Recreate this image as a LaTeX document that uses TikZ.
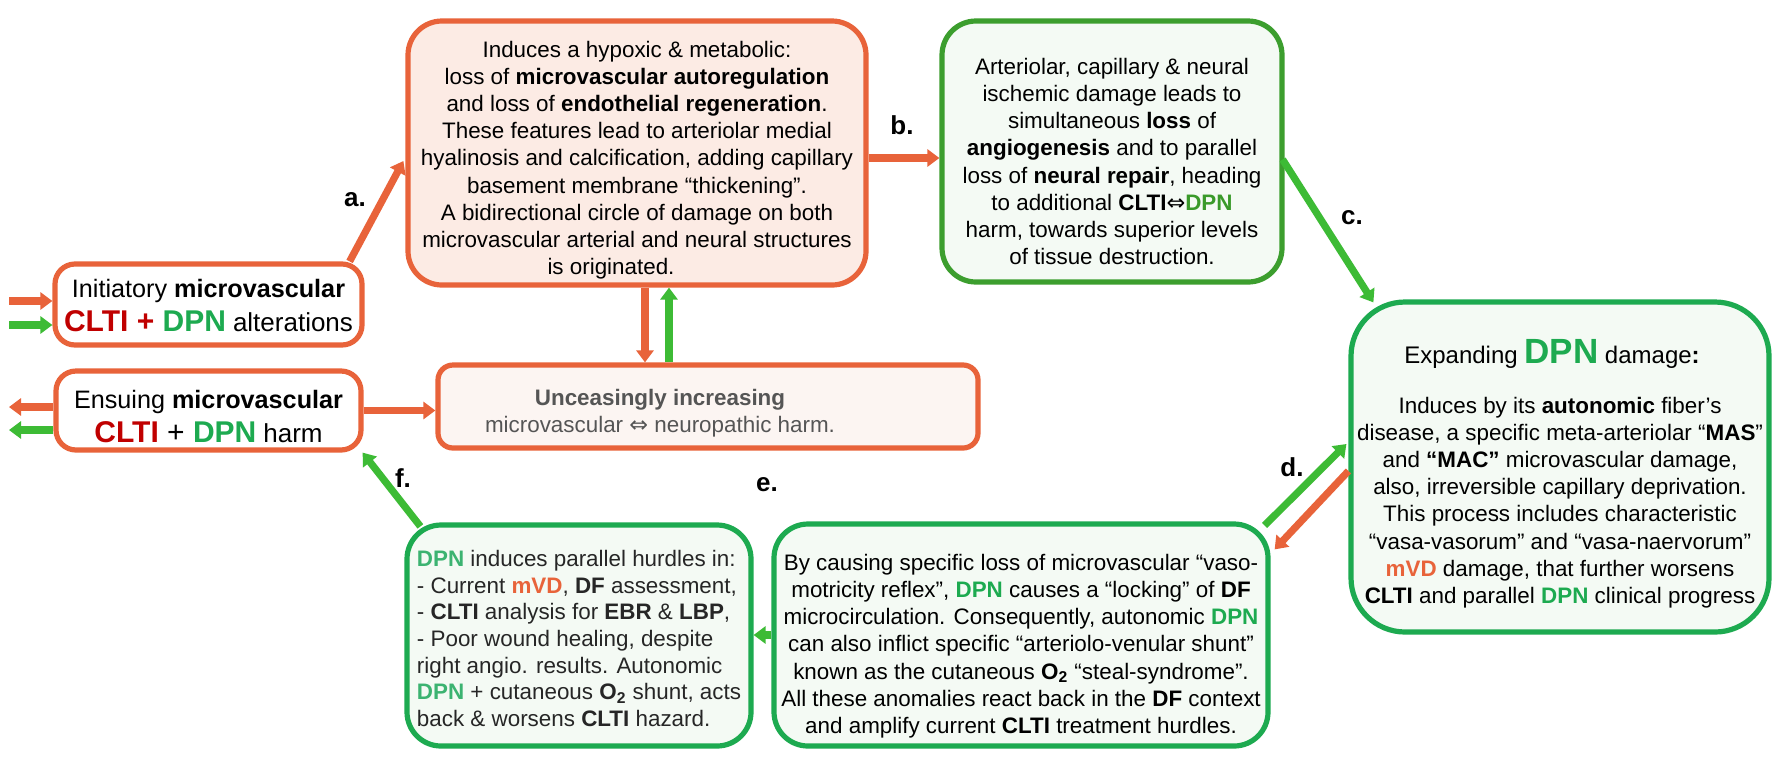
\documentclass[tikz,border=0pt]{standalone}
\usepackage{fontspec}
\setmainfont{Liberation Sans}
\newfontfamily\symfont{DejaVu Sans}
\usetikzlibrary{arrows.meta,calc}
\definecolor{orng}{HTML}{E8633A}
\definecolor{cltired}{HTML}{C00000}
\definecolor{dpng}{HTML}{1DAA50}
\definecolor{dpndark}{HTML}{3A9A2A}
\definecolor{dpnlight}{HTML}{3CB371}
\definecolor{boxgreen}{HTML}{1DAA50}
\definecolor{boxgreenB}{HTML}{3C9E2E}
\definecolor{arrgreen}{HTML}{3DBB35}
\definecolor{pinkfill}{HTML}{FCEBE4}
\definecolor{pinkfilltwo}{HTML}{FCF5F2}
\definecolor{greenfill}{HTML}{F4FAF4}
\definecolor{graytext}{HTML}{555555}
\definecolor{darktext}{HTML}{262626}
\newcommand{\dblarr}{{\symfont ⇔}}
\newcommand{\mybody}{\fontsize{11.2}{13.6}\selectfont}
\newcommand{\Oii}{\textbf{O\textsubscript{2}}}
\tikzset{
  basebox/.style={line width=2.6pt, inner sep=0pt},
  orbox/.style={basebox, draw=orng, fill=white, rounded corners=10pt},
  pinkbox/.style={basebox, draw=orng, fill=pinkfill, rounded corners=17pt},
  uncbox/.style={basebox, draw=orng, fill=pinkfilltwo, rounded corners=7.5pt},
  grbox/.style={basebox, draw=boxgreen, fill=greenfill, rounded corners=17pt},
  grboxB/.style={basebox, draw=boxgreenB, fill=greenfill, rounded corners=17pt},
  txt/.style={align=center, inner sep=0pt, font=\mybody},
  oarr/.style={draw=orng, line width=3.6pt, -{Triangle[width=8.5pt,length=6pt]}},
  garr/.style={draw=arrgreen, line width=3.6pt, -{Triangle[width=8.5pt,length=6pt]}},
  lbl/.style={font=\fontsize{13}{15}\selectfont\bfseries, inner sep=0pt}
}
\begin{document}
\begin{tikzpicture}[x=0.5pt,y=-0.5pt]
\fill[white] (0,0) rectangle (1786,767);
\useasboundingbox (0,0) rectangle (1786,767);

% boxes
\node[orbox, minimum width=153.5pt, minimum height=40.5pt] (init) at (208.5,304.5) {};
\node[txt, font=\fontsize{12.6}{17}\selectfont] (initt) at ($(init.center)+(0,1)$)
 {Initiatory \textbf{microvascular}\\
  {\fontsize{15}{17}\selectfont\bfseries\textcolor{cltired}{CLTI +} \textcolor{dpng}{DPN}} {\fontsize{13}{17}\selectfont alterations}};

\node[orbox, minimum width=152.5pt, minimum height=39.5pt] (ens) at (208.5,410.5) {};
\node[txt, font=\fontsize{12.6}{17}\selectfont] (enst) at ($(ens.center)+(0,6)$)
 {Ensuing \textbf{microvascular}\\
  {\fontsize{15}{17}\selectfont\textbf{\textcolor{cltired}{CLTI}} + \textbf{\textcolor{dpng}{DPN}}} {\fontsize{13}{17}\selectfont harm}};

\node[pinkbox, minimum width=229pt, minimum height=132pt] (A) at (637,153) {};
\node[txt] (At) at ($(A.center)+(0,7)$)
 {Induces a hypoxic \& metabolic:\\
  loss of \textbf{microvascular autoregulation}\\
  and loss of \textbf{endothelial regeneration}.\\
  These features lead to arteriolar medial\hspace*{10pt}\\
  hyalinosis and calcification, adding capillary\\
  basement membrane “thickening”.\hspace*{12pt}\\
  A bidirectional circle of damage on both\\
  microvascular arterial and neural structures\\
  is originated.\hspace*{26pt}};

\node[grboxB, minimum width=170pt, minimum height=130.5pt] (B) at (1112,151.5) {};
\node[txt] (Bt) at ($(B.center)+(0,10)$)
 {Arteriolar, capillary \& neural\\
  ischemic damage leads to\\
  simultaneous \textbf{loss} of\\
  \textbf{angiogenesis} and to parallel\\
  loss of \textbf{neural repair}, heading\\
  to additional \textbf{CLTI}\dblarr\textbf{\textcolor{dpndark}{DPN}}\\
  harm, towards superior levels\\
  of tissue destruction.};

\node[uncbox, minimum width=270pt, minimum height=41.5pt] (unc) at (708,406.5) {};
\node[txt, text=graytext] (unct) at ($(unc.center)+(-48,7)$)
 {\textbf{Unceasingly increasing}\\ microvascular \dblarr{} neuropathic harm.};

\node[grbox, rounded corners=27pt, minimum width=209pt, minimum height=165pt] (C) at (1560,467) {};
\node[txt] (Ct) at ($(C.center)+(0,7)$)
 {{\fontsize{12}{14}\selectfont Expanding {\fontsize{17.5}{18}\selectfont\bfseries\textcolor{dpng}{DPN}} damage\textbf{:}}\hspace*{8pt}\\[11pt]
  Induces by its \textbf{autonomic} fiber’s\hspace*{17pt}\\
  disease, a specific meta-arteriolar “\textbf{MAS}”\\
  and \textbf{“MAC”} microvascular damage,\hspace*{7pt}\\
  also, irreversible capillary deprivation.\\
  This process includes characteristic\hspace*{15pt}\\
  “vasa-vasorum” and “vasa-naervorum”\\
  \textbf{\textcolor{orng}{mVD}} damage, that further worsens\hspace*{7pt}\\
  \textbf{CLTI} and parallel \textbf{\textcolor{dpng}{DPN}} clinical progress};

\node[grbox, minimum width=247pt, minimum height=111pt] (D) at (1021,635) {};
\node[txt] (Dt) at ($(D.center)+(0,11)$)
 {By causing specific loss of microvascular “vaso-\\
  motricity reflex”, \textbf{\textcolor{dpng}{DPN}} causes a “locking” of \textbf{DF}\\
  microcirculation. Consequently, autonomic \textbf{\textcolor{dpng}{DPN}}\\
  can also inflict specific “arteriolo-venular shunt”\\
  known as the cutaneous \Oii{} “steal-syndrome”.\\
  All these anomalies react back in the \textbf{DF} context\\
  and amplify current \textbf{CLTI} treatment hurdles.};

\node[grbox, minimum width=172pt, minimum height=110.5pt] (E) at (579,635.5) {};
\node[txt, align=left, text=darktext, font=\fontsize{11.2}{13.3}\selectfont] (Et) at ($(E.center)+(0,3)$)
 {\textbf{\textcolor{dpnlight}{DPN}} induces parallel hurdles in:\\
  - Current \textbf{\textcolor{orng}{mVD}}, \textbf{DF} assessment,\\
  - \textbf{CLTI} analysis for \textbf{EBR} \& \textbf{LBP},\\
  - Poor wound healing, despite\\
  right angio. results. Autonomic\\
  \textbf{\textcolor{dpnlight}{DPN}} + cutaneous \Oii{} shunt, acts\\
  back \& worsens \textbf{CLTI} hazard.};

% labels
\node[lbl] (la) at (355,200) {a.};
\node[lbl] (lb) at (902,125) {b.};
\node[lbl] (lc) at (1352,218) {c.};
\node[lbl] (ld) at (1292,467) {d.};
\node[lbl] (le) at (767,485) {e.};
\node[lbl] (lf) at (403,478) {f.};

% free-end coordinates
\coordinate (inO) at (9,301);
\coordinate (inG) at (9,325);
\coordinate (outO) at (9,407);
\coordinate (outG) at (9,430);
\coordinate (dnO) at ($(A.south)+(8,0)$);
\coordinate (upG) at ($(A.south)+(32,0)$);

% arrows
\draw[oarr] (inO) -- (inO -| init.west);
\draw[garr] (inG) -- (inG -| init.west);
\draw[oarr] (outO -| ens.west) -- (outO);
\draw[garr] (outG -| ens.west) -- (outG);

\draw[oarr] ($(init.north east)+(-15,0)$) -- ($(A.west)+(-2,8)$);
\draw[oarr] ($(A.east)+(0,5)$) -- ($(B.west)+(0,6.5)$);
\draw[garr] ($(B.east)+(-2,8)$) -- ($(C.north west)+(25,3)$);
\draw[garr] ($(D.north east)+(-6,4)$) -- ($(C.west)+(-2,-23)$);
\draw[oarr] ($(C.west)+(0,4)$) -- ($(D.north east)+(4,28)$);
\draw[garr] (D.west) -- (D.west -| E.east);
\draw[garr] ($(E.north west)+(16,4)$) -- ($(ens.south east)+(-1,0)$);
\draw[oarr] (dnO) -- (dnO |- unc.north);
\draw[garr] (upG |- unc.north) -- (upG);
\draw[oarr] (ens.east) -- (ens.east -| unc.west);
\end{tikzpicture}
\end{document}
